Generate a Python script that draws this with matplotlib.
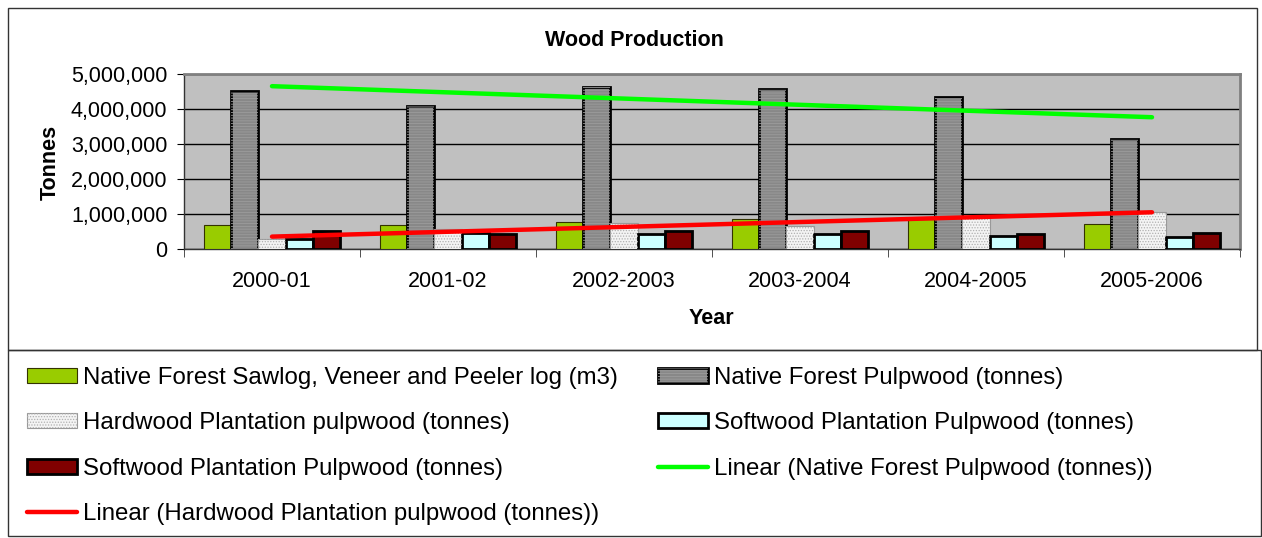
import matplotlib

matplotlib.use("Agg")
import matplotlib.pyplot as plt
import numpy as np
from matplotlib.legend_handler import HandlerTuple
from matplotlib.patches import Patch, Rectangle

plt.rcParams["font.family"] = ["Liberation Sans", "DejaVu Sans"]
plt.rcParams["hatch.linewidth"] = 0.6

years = ["2000-01", "2001-02", "2002-2003", "2003-2004", "2004-2005", "2005-2006"]
sawlog = [680000, 690000, 780000, 870000, 850000, 710000]
nf_pulp = [4510000, 4090000, 4620000, 4560000, 4340000, 3130000]
hw_pulp = [280000, 570000, 730000, 660000, 900000, 1070000]
sw_pulp_a = [300000, 450000, 430000, 430000, 380000, 350000]
sw_pulp_b = [510000, 430000, 520000, 510000, 430000, 470000]

# (label, values, bar style, hatch, hatch colour)
series = [
    ("Native Forest Sawlog, Veneer and Peeler log (m3)", sawlog,
     dict(facecolor="#99cc00", edgecolor="#333300", linewidth=0.8), None, None),
    ("Native Forest Pulpwood (tonnes)", nf_pulp,
     dict(facecolor="#888888", edgecolor="black", linewidth=2), "------", "#9c9c9c"),
    ("Hardwood Plantation pulpwood (tonnes)", hw_pulp,
     dict(facecolor="#f4f4f4", edgecolor="#999999", linewidth=0.8), "......", "#b0b0b0"),
    ("Softwood Plantation Pulpwood (tonnes)", sw_pulp_a,
     dict(facecolor="#ccffff", edgecolor="black", linewidth=2), None, None),
    ("Softwood Plantation Pulpwood (tonnes)", sw_pulp_b,
     dict(facecolor="#800000", edgecolor="black", linewidth=2), None, None),
]

W, H = 1262, 538
fig = plt.figure(figsize=(W / 100, H / 100), dpi=100)
ax = fig.add_axes([184 / W, 1 - 249 / H, (1240 - 184) / W, (249 - 74) / H])
ax.set_facecolor("#c0c0c0")

x = np.arange(len(years))
bw = 1 / 6.5
handles, labels = [], []
for i, (name, vals, style, hatch, hcol) in enumerate(series):
    pos = x + (i - 2) * bw
    ax.bar(pos, vals, bw, zorder=3, **style)
    key = [Patch(**style)]
    if hatch:
        ax.bar(pos, vals, bw, fill=False, edgecolor=hcol, linewidth=0, hatch=hatch, zorder=3.1)
        key.append(Patch(fill=False, edgecolor=hcol, linewidth=0, hatch=hatch))
    handles.append(tuple(key))
    labels.append(name)

# linear trend lines (least squares, like Excel's "Linear" trendline)
for vals, col, name in [(nf_pulp, "#00ff00", "Linear (Native Forest Pulpwood (tonnes))"),
                        (hw_pulp, "#ff0000", "Linear (Hardwood Plantation pulpwood (tonnes))")]:
    k, c = np.polyfit(x, vals, 1)
    ln, = ax.plot(x, k * x + c, color=col, lw=3.2, solid_capstyle="round", zorder=4)
    handles.append(ln)
    labels.append(name)

ax.set_xlim(-0.5, 5.5)
ax.set_ylim(0, 5000000)
ax.set_yticks(np.arange(0, 5000001, 1000000))
ax.set_yticklabels([f"{v:,}" for v in range(0, 5000001, 1000000)], fontsize=15.5)
ax.yaxis.grid(True, color="black", lw=1, zorder=1)
ax.set_xticks(x)
ax.set_xticklabels(years, fontsize=15.5)
ax.set_xticks(np.arange(-0.5, 6, 1), minor=True)
ax.tick_params(axis="x", which="major", length=0, pad=16)
ax.tick_params(axis="x", which="minor", length=6, direction="out", color="#333333")
ax.tick_params(axis="y", length=5, direction="out", pad=7)
for s in ["top", "right"]:
    ax.spines[s].set_color("#808080")
    ax.spines[s].set_linewidth(2)
for s in ["left", "bottom"]:
    ax.spines[s].set_color("#333333")
    ax.spines[s].set_linewidth(1)

fig.text(634 / W, 1 - 40 / H, "Wood Production", ha="center", va="center", fontsize=15.5, weight="bold")
fig.text(50 / W, 1 - 162 / H, "Tonnes", ha="center", va="center", rotation=90, fontsize=15.5, weight="bold")
fig.text(711 / W, 1 - 318 / H, "Year", ha="center", va="center", fontsize=15.5, weight="bold")

# chart and legend boxes
fig.patches.append(Rectangle((8 / W, 1 - 350 / H), (1257 - 8) / W, (350 - 8) / H,
                             transform=fig.transFigure, fill=False, ec="#333333", lw=1))
fig.patches.append(Rectangle((8 / W, 1 - 536 / H), (1261 - 8) / W, (536 - 350) / H,
                             transform=fig.transFigure, fill=False, ec="#333333", lw=1))

# Excel fills the legend row by row; matplotlib fills column by column
idx = [0, 2, 4, 6, 1, 3, 5]
fig.legend([handles[i] for i in idx], [labels[i] for i in idx], ncol=2, frameon=False,
           loc="upper left", bbox_to_anchor=(15 / W, 1 - 355 / H),
           handler_map={tuple: HandlerTuple(ndivide=1, pad=0)},
           fontsize=17.3, handlelength=2.08, handleheight=0.6, handletextpad=0.25,
           labelspacing=0.97, columnspacing=1.67, borderpad=0)

fig.savefig("out.png", dpi=100)
